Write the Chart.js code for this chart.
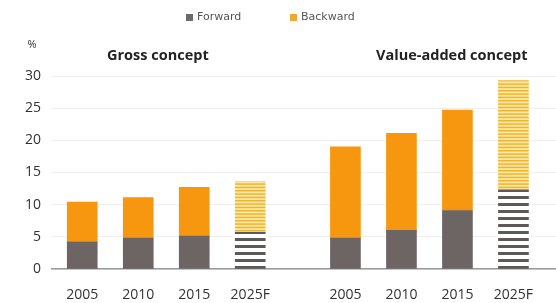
<!DOCTYPE html>
<html>
<head>
<meta charset="utf-8">
<script src="https://cdn.jsdelivr.net/npm/chart.js@4/dist/chart.umd.min.js"></script>
<style>
html,body{margin:0;padding:0;background:#fff;}
#wrap{width:556px;height:303px;}
</style>
</head>
<body>
<div id="wrap"><canvas id="c" width="556" height="303"></canvas></div>
<script>
// ---- data ----
const categories = ['2005', '2010', '2015', '2025F', '2005', '2010', '2015', '2025F'];
const xPositions = [0, 1, 2, 3, 4.7, 5.7, 6.7, 7.7];
const forward  = [4.2, 4.8, 5.1, 5.7, 4.8, 6.0, 9.1, 12.3];
const backward = [6.2, 6.3, 7.6, 7.9, 14.2, 15.1, 15.6, 17.0];
const forecast = [false, false, false, true, false, false, false, true];
const seriesNames = ['Forward', 'Backward'];
const legendColors = ['#6b6b6b', '#f0a830'];
const groupTitles = ['Gross concept', 'Value-added concept'];
const groupTitleX = [1.35, 6.6];
const yTicks = [0, 5, 10, 15, 20, 25, 30];

const FWD = '#6d6464';
const BWD = '#f7960f';

function stripe(h, rows, bg, fg) {
  const c = document.createElement('canvas');
  c.width = 8; c.height = h;
  const g = c.getContext('2d');
  g.fillStyle = bg; g.fillRect(0, 0, 8, h);
  g.fillStyle = fg;
  rows.forEach(r => g.fillRect(0, r[0], 8, r[1]));
  return g.createPattern(c, 'repeat');
}
const ctx = document.getElementById('c').getContext('2d');
const fwdPattern = stripe(7, [[0, 3]], '#ffffff', '#5f5858');
const bwdPattern = stripe(10, [[0, 1.5], [3.33, 1.5], [6.67, 1.5]], '#fbe8a6', '#efb52e');

const pts = arr => arr.map((v, i) => ({x: xPositions[i], y: v}));

const overlay = {
  id: 'overlay',
  afterDraw(chart) {
    const c = chart.ctx;
    const xs = chart.scales.x;
    c.save();
    // legend
    c.font = '11px "DejaVu Sans"';
    c.textBaseline = 'middle';
    c.textAlign = 'left';
    const legendX = [186, 290];
    seriesNames.forEach((n, i) => {
      c.fillStyle = legendColors[i];
      c.fillRect(legendX[i], 14, 7, 7);
      c.fillStyle = '#555';
      c.fillText(n, legendX[i] + 11, 17.5);
    });
    // group titles
    c.fillStyle = '#222';
    c.font = 'bold 14.5px "Open Sans"';
    c.textAlign = 'center';
    groupTitles.forEach((t, i) => c.fillText(t, xs.getPixelForValue(groupTitleX[i]), 56));
    c.font = '11px "Open Sans"';
    c.fillStyle = '#333';
    c.fillText('%', 32, 45);
    c.restore();
  }
};

new Chart(ctx, {
  type: 'bar',
  data: {
    datasets: [
      {
        label: seriesNames[0],
        data: pts(forward),
        backgroundColor: (c) => (c.type === 'data' && forecast[c.dataIndex]) ? fwdPattern : FWD,
        barThickness: 30,
        stack: 's'
      },
      {
        label: seriesNames[1],
        data: pts(backward),
        backgroundColor: (c) => (c.type === 'data' && forecast[c.dataIndex]) ? bwdPattern : BWD,
        barThickness: 30,
        stack: 's'
      }
    ]
  },
  options: {
    responsive: false,
    animation: false,
    layout: { padding: { left: 0, right: 0, top: 76, bottom: 0 } },
    plugins: {
      tooltip: { enabled: false },
      legend: { display: false }
    },
    scales: {
      x: {
        type: 'linear',
        stacked: true,
        offset: false,
        min: -0.54,
        max: 8.46,
        grid: { display: false },
        border: { display: true, color: '#9a9a9a', width: 1.5 },
        afterBuildTicks: (s) => { s.ticks = xPositions.map(v => ({ value: v })); },
        afterFit: (s) => { s.height = 34; },
        ticks: {
          autoSkip: false,
          maxRotation: 0,
          padding: 10,
          color: '#333',
          font: { family: '"Open Sans"', size: 14 },
          callback: (v, i) => categories[i]
        }
      },
      y: {
        stacked: true,
        min: 0,
        max: 30,
        afterBuildTicks: (s) => { s.ticks = yTicks.map(v => ({ value: v })); },
        afterFit: (s) => { s.width = 52; },
        grid: { color: '#efefef', drawTicks: false, lineWidth: 1 },
        border: { display: false },
        ticks: {
          padding: 11,
          color: '#333',
          font: { family: '"Open Sans"', size: 14 }
        }
      }
    }
  },
  plugins: [overlay]
});
</script>
</body>
</html>
